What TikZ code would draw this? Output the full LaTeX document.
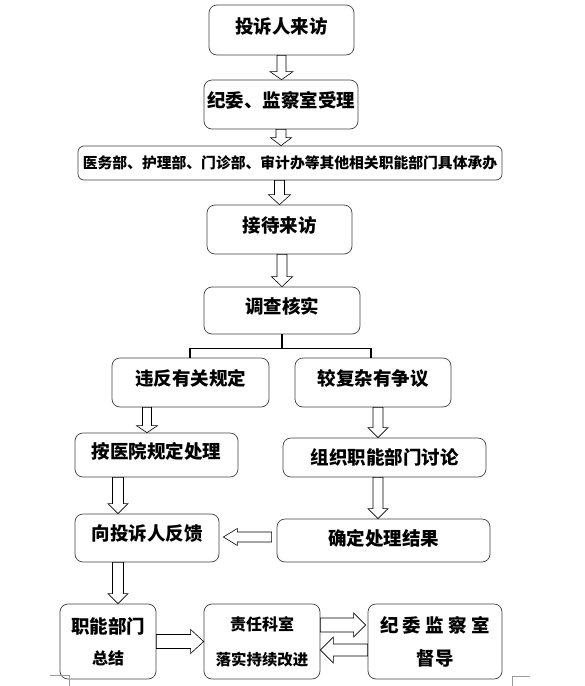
\documentclass[tikz,border=0pt]{standalone}
\usepackage{fontspec}
\setmainfont{Noto Sans CJK SC}
\usetikzlibrary{calc}

% hollow block arrow: half shaft, half head, head length, from, to
\newcommand\blkarr[5]{%
  \draw[blk] let \p1=(#4), \p2=(#5),
    \n1={veclen(\x2-\x1,\y2-\y1)}, \n2={(\x2-\x1)/\n1}, \n3={(\y2-\y1)/\n1} in
    ({\x1-#1*(\n3)},{\y1+#1*(\n2)})
    -- ({\x2-#3*(\n2)-#1*(\n3)},{\y2-#3*(\n3)+#1*(\n2)})
    -- ({\x2-#3*(\n2)-#2*(\n3)},{\y2-#3*(\n3)+#2*(\n2)})
    -- (\p2)
    -- ({\x2-#3*(\n2)+#2*(\n3)},{\y2-#3*(\n3)-#2*(\n2)})
    -- ({\x2-#3*(\n2)+#1*(\n3)},{\y2-#3*(\n3)-#1*(\n2)})
    -- ({\x1+#1*(\n3)},{\y1-#1*(\n2)}) -- cycle;}

\begin{document}
\begin{tikzpicture}[
  x=1pt, y=1pt,
  box/.style={rectangle, draw=black!75, rounded corners=8pt, line width=0.7pt,
              inner sep=0pt, text centered, text depth=10pt,
              font=\bfseries\fontsize{18.5}{22}\selectfont},
  tall/.style={box, align=center, text depth=, minimum height=75},
  wide/.style={box, rounded corners=6pt, text depth=,
               font=\bfseries\fontsize{14.8}{18}\selectfont},
  blk/.style={draw=black, fill=white, line width=0.6pt, line join=miter},
  branch/.style={line width=1.3pt},
  crop/.style={draw=black!40, line width=0.5pt}
]
\useasboundingbox (0,0) rectangle (585,-686);

% Intake
\node[box, minimum width=145, minimum height=50] (ts) at (281.5,-30)   {投诉人来访};
\node[box, minimum width=154, minimum height=49] (jw) at (281,-104.5)  {纪委、监察室受理};
\node[wide, minimum width=424, minimum height=34] (cb) at (290,-163)   {医务部、护理部、门诊部、审计办等其他相关职能部门具体承办};
\node[box, minimum width=145, minimum height=49] (jd) at (279.5,-229.5) {接待来访};
\node[box, minimum width=156, minimum height=47] (dc) at (282,-310.5)   {调查核实};

% Two branches
\node[box, minimum width=157, minimum height=49] (wf) at (190.5,-382.5) {违反有关规定\hspace{13pt}};
\node[box, minimum width=156, minimum height=49] (fz) at (373,-382.5)   {较复杂有争议\hspace{14pt}};
\node[box, minimum width=163, minimum height=44] (an) at (156.5,-455)   {按医院规定处理};
\node[box, minimum width=203, minimum height=39, text depth=] (zz) at (384.5,-457.5) {组织职能部门讨论};
\node[box, minimum width=144, minimum height=48] (fk) at (147,-538)     {向投诉人反馈};
\node[box, minimum width=213, minimum height=43, text depth=6pt] (qd) at (383.5,-540.5) {确定处理结果\hspace{14pt}};

% Follow-up
\node[tall, minimum width=96] (zj) at (108,-641.5)
  {职能部门\\[9pt]{\fontsize{16}{19}\selectfont 总结}};
\node[tall, minimum width=116] (zr) at (262,-641.5)
  {{\fontsize{16}{19}\selectfont 责任科室}\\[13pt]{\fontsize{15.4}{18}\selectfont 落实持续改进}};
\node[tall, minimum width=134] (jc) at (435,-641.5)
  {纪 委 监 察 室\\[11pt]督导};

% Arrows
\blkarr{4.5}{11.5}{8}{ts.south}{ts.south |- jw.north}
\blkarr{5}{10.5}{8}{jw.south}{jw.south |- cb.north}
\blkarr{5}{11}{10}{cb.south -| jd.north}{jd.north}
\blkarr{5}{10.5}{10}{jd.south -| dc.north}{dc.north}
\coordinate (bl) at ([xshift=-0.5]wf.north);
\coordinate (br) at ([xshift=-2]fz.north);
\draw[branch] (dc.south) -- ++(0,-14) coordinate (bm);
\draw[branch] (bl) -- (bl |- bm) -- (br |- bm) -- (br);
\blkarr{4.5}{10.5}{7}{[xshift=-43.5]wf.south}{[xshift=-9.5]an.north}
\blkarr{5}{10}{10}{[xshift=5]fz.south}{[xshift=-6.5]zz.north}
\blkarr{5.5}{10}{10}{[xshift=-38.5]an.south}{[xshift=-29]fk.north}
\blkarr{5}{10}{10}{[xshift=-6.5]zz.south}{[xshift=-5.5]qd.north}
\blkarr{5}{8.5}{14}{[xshift=-5,yshift=3.5]qd.west}{[xshift=4,yshift=1]fk.east}
\blkarr{5.5}{10}{10}{[xshift=-29]fk.south}{[xshift=10]zj.north}
\blkarr{7}{12}{13}{zj.east}{zr.west}
\blkarr{7}{12}{12}{[yshift=16.5]zr.east}{[xshift=-2,yshift=16.5]jc.west}
\blkarr{6}{13}{13}{[yshift=-8.5]jc.west}{[yshift=-8.5]zr.east}

% Page corner marks
\draw[crop] (50,-675) -- (69,-675) -- (69,-686);
\draw[crop] (512,-686) -- (512,-676) -- (530,-676);

\end{tikzpicture}
\end{document}
